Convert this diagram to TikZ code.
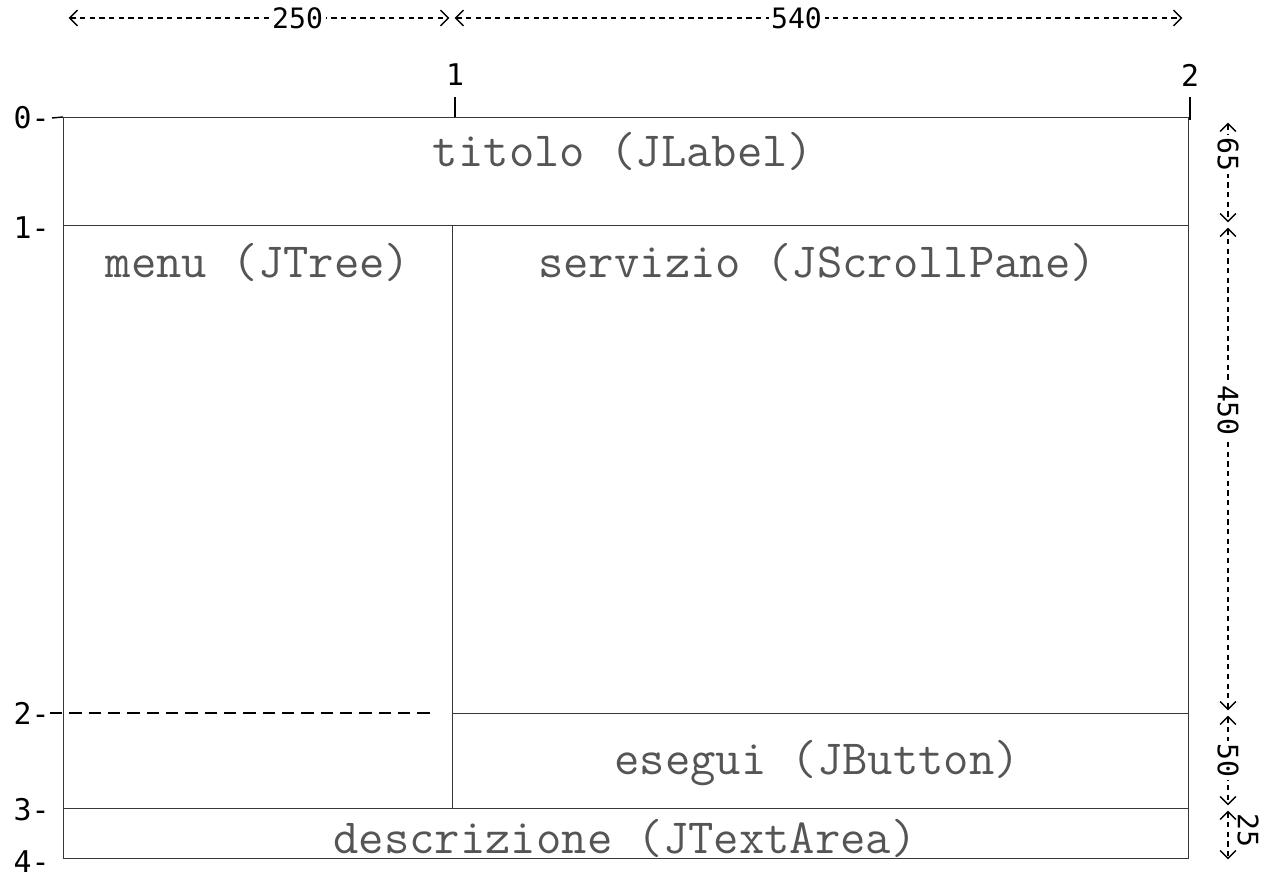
\documentclass[tikz,border=0pt]{standalone}
\usepackage{fontspec}
\newfontfamily\dimfont{DejaVu Sans Mono}
\usepackage{xcolor}
\definecolor{linegray}{RGB}{55,55,55}
\definecolor{textgray}{RGB}{85,85,85}
\usetikzlibrary{arrows.meta, positioning, calc}

\begin{document}
\begin{tikzpicture}[x=0.02cm, y=-0.02cm, >={Straight Barb[length=4.5pt,width=9pt]},
    area/.style={font=\ttfamily\fontsize{28}{28}\selectfont, text=textgray},
    dim/.style={<->, thick, dash pattern=on 3pt off 2.5pt, shorten <=1.5pt, shorten >=1.5pt},
    dimlabel/.style={font=\dimfont\fontsize{16}{16}\selectfont, fill=white, inner sep=1.5pt},
    tick/.style={font=\dimfont\fontsize{17}{17}\selectfont, inner sep=0pt}]
    \useasboundingbox (0,0) rectangle (1266,881);
    % layout grid
    \coordinate (tl) at (63,117);
    \coordinate (br) at (1188,858);
    \draw[linegray] (tl) rectangle (br);
    \draw[linegray] (63,225) -- (1188,225);
    \draw[linegray] (63,808) -- (1188,808);
    \draw[linegray] (452,225) -- (452,808);
    \draw[linegray] (452,713) -- (1188,713);
    % component labels
    \node[area] (titolo) at (623,151) {titolo (JLabel)};
    \node[area] (menu) at (258,262) {menu (JTree)};
    \node[area] (servizio) at (817,262) {servizio (JScrollPane)};
    \node[area] (esegui) at (817,763) {esegui (JButton)};
    \node[area] (descr) at (625,838) {descrizione (JTextArea)};
    % row and column indices
    \node[tick, anchor=east] (r0) at (50,118) {0-};
    \node[tick, anchor=east] (r1) at (50,228) {1-};
    \node[tick, anchor=east] (r2) at (50,713) {2-};
    \node[tick, anchor=east] (r3) at (50,810) {3-};
    \node[tick, anchor=east] (r4) at (50,862) {4-};
    \draw[thick] (r0.east) ++(2,0) -- (tl);
    \draw[thick, dash pattern=on 7pt off 4pt] (r2.east) -- (430,713);
    \node[tick] (c1) at (455,75) {1};
    \node[tick] (c2) at (1190,75) {2};
    \draw[thick] (455,97) -- (455,117);
    \draw[thick] (1190,97) -- (1190,120);
    % sizes
    \coordinate (w0) at (66,18);
    \coordinate (w1) at (452,18);
    \coordinate (w2) at (1185,18);
    \draw[dim] (w0) -- node[dimlabel, pos=0.6] {250} (w1);
    \draw[dim] (w1) -- node[dimlabel, pos=0.47] {540} (w2);
    \coordinate (h0) at (1228,120);
    \coordinate (h1) at (1228,225);
    \coordinate (h2) at (1228,713);
    \coordinate (h3) at (1228,808);
    \coordinate (h4) at (1228,862);
    \draw[dim] (h0) -- node[dimlabel, rotate=-90, pos=0.33] {65} (h1);
    \draw[dim] (h1) -- node[dimlabel, rotate=-90, pos=0.38] {450} (h2);
    \draw[dim] (h2) -- node[dimlabel, rotate=-90] {50} (h3);
    \draw[dim] (h3) -- (h4);
    \node[dimlabel, rotate=-90, fill=none] (n25) at (1248,830) {25};
\end{tikzpicture}
\end{document}
